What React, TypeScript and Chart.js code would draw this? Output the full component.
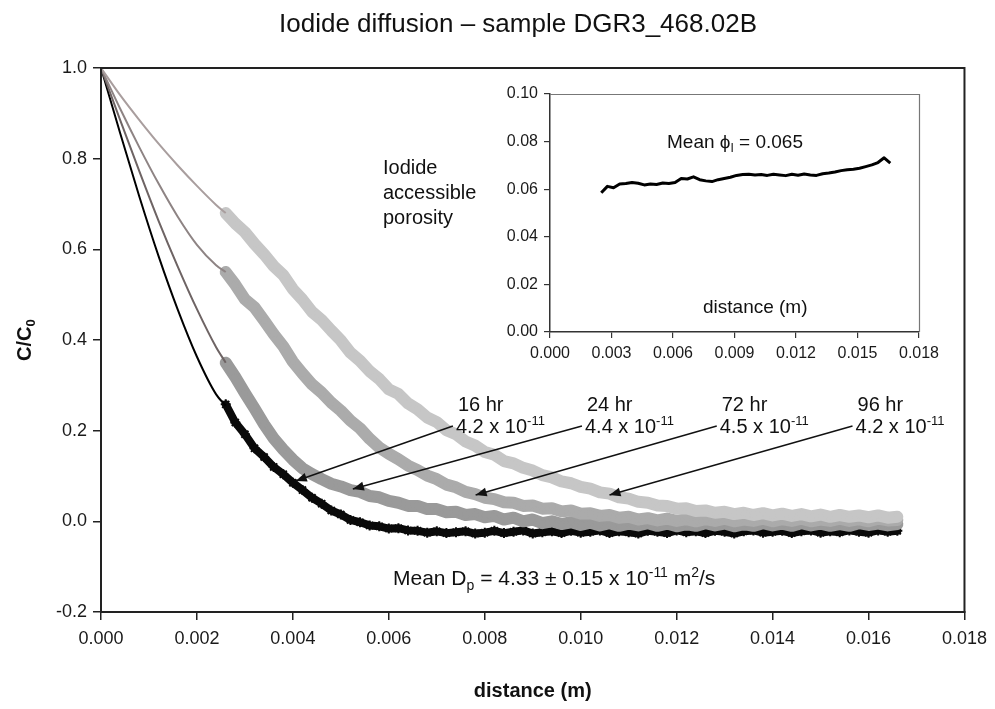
import React, { useEffect, useRef } from "react";
import { Chart, registerables } from "chart.js";

Chart.register(...registerables);

const FONT = '"Liberation Sans", Arial, Helvetica, sans-serif';
const TITLE = "Iodide diffusion \u2013 sample DGR3_468.02B";

// ---- main chart ticks ----
const X_TICKS = [0, 0.002, 0.004, 0.006, 0.008, 0.01, 0.012, 0.014, 0.016, 0.018];
const Y_TICKS = [-0.2, 0, 0.2, 0.4, 0.6, 0.8, 1.0];

// ---- fitted model curves (C/C0 vs distance) ----
const MODEL_X = [0, 0.0004, 0.0008, 0.0012, 0.0016, 0.002, 0.0024, 0.0026];
const MODEL_16 = [1, 0.856, 0.716, 0.585, 0.467, 0.363, 0.28, 0.255];
const MODEL_24 = [1, 0.885, 0.772, 0.663, 0.562, 0.468, 0.384, 0.35];
const MODEL_72 = [1, 0.91, 0.825, 0.745, 0.672, 0.61, 0.565, 0.55];
const MODEL_96 = [1, 0.94, 0.885, 0.833, 0.785, 0.74, 0.698, 0.68];

// ---- measured profiles ----
const DIST = [
  0.0026, 0.0028, 0.0030, 0.0032, 0.0034, 0.0036, 0.0038, 0.0040, 0.0042, 0.0044,
  0.0046, 0.0048, 0.0050, 0.0052, 0.0054, 0.0056, 0.0058, 0.0060, 0.0062, 0.0064,
  0.0066, 0.0068, 0.0070, 0.0072, 0.0074, 0.0076, 0.0078, 0.0080, 0.0082, 0.0084,
  0.0086, 0.0088, 0.0090, 0.0092, 0.0094, 0.0096, 0.0098, 0.0100, 0.0102, 0.0104,
  0.0106, 0.0108, 0.0110, 0.0112, 0.0114, 0.0116, 0.0118, 0.0120, 0.0122, 0.0124,
  0.0126, 0.0128, 0.0130, 0.0132, 0.0134, 0.0136, 0.0138, 0.0140, 0.0142, 0.0144,
  0.0146, 0.0148, 0.0150, 0.0152, 0.0154, 0.0156, 0.0158, 0.0160, 0.0162, 0.0164,
  0.0166,
];
const DATA_16 = [
  0.258, 0.218, 0.192, 0.161, 0.142, 0.12, 0.104, 0.085, 0.069, 0.052,
  0.039, 0.024, 0.015, 0.003, -0.002, -0.009, -0.011, -0.016, -0.015, -0.02,
  -0.021, -0.025, -0.022, -0.026, -0.024, -0.022, -0.027, -0.025, -0.021, -0.026,
  -0.023, -0.020, -0.027, -0.024, -0.022, -0.026, -0.021, -0.025, -0.023, -0.020,
  -0.026, -0.022, -0.024, -0.027, -0.021, -0.023, -0.026, -0.020, -0.024, -0.022,
  -0.026, -0.021, -0.023, -0.027, -0.022, -0.020, -0.025, -0.023, -0.021, -0.026,
  -0.022, -0.020, -0.025, -0.022, -0.024, -0.020, -0.023, -0.025, -0.020, -0.023,
  -0.021,
];
const DATA_24 = [
  0.35, 0.318, 0.283, 0.249, 0.214, 0.183, 0.158, 0.136, 0.117, 0.104,
  0.093, 0.083, 0.077, 0.069, 0.065, 0.056, 0.053, 0.045, 0.041, 0.034,
  0.034, 0.027, 0.027, 0.020, 0.021, 0.014, 0.016, 0.009, 0.012, 0.004,
  0.008, 0.000, 0.004, -0.004, 0.000, -0.006, -0.002, -0.008, -0.003, -0.009,
  -0.004, -0.010, -0.005, -0.009, -0.004, -0.010, -0.005, -0.011, -0.006, -0.010,
  -0.004, -0.009, -0.005, -0.011, -0.006, -0.010, -0.004, -0.009, -0.005, -0.010,
  -0.004, -0.009, -0.005, -0.010, -0.006, -0.010, -0.004, -0.008, -0.005, -0.009,
  -0.006,
];
const DATA_72 = [
  0.55, 0.522, 0.49, 0.472, 0.443, 0.413, 0.386, 0.352, 0.326, 0.302,
  0.284, 0.262, 0.244, 0.222, 0.205, 0.182, 0.163, 0.149, 0.137, 0.123,
  0.113, 0.101, 0.093, 0.081, 0.075, 0.065, 0.060, 0.052, 0.049, 0.042,
  0.041, 0.034, 0.035, 0.028, 0.029, 0.022, 0.024, 0.017, 0.018, 0.012,
  0.014, 0.008, 0.010, 0.004, 0.007, 0.002, 0.006, 0.001, 0.005, 0.000,
  0.005, 0.001, 0.006, 0.000, 0.004, 0.001, 0.006, 0.000, 0.005, 0.001,
  0.006, 0.000, 0.004, 0.001, 0.006, 0.001, 0.005, 0.000, 0.006, 0.002,
  0.003,
];
const DATA_96 = [
  0.68, 0.657, 0.638, 0.612, 0.589, 0.563, 0.543, 0.512, 0.489, 0.462,
  0.444, 0.421, 0.399, 0.372, 0.354, 0.331, 0.314, 0.291, 0.281, 0.260,
  0.247, 0.229, 0.219, 0.201, 0.192, 0.176, 0.167, 0.153, 0.147, 0.133,
  0.128, 0.118, 0.112, 0.102, 0.097, 0.088, 0.084, 0.076, 0.072, 0.064,
  0.061, 0.053, 0.050, 0.043, 0.041, 0.035, 0.034, 0.028, 0.029, 0.023,
  0.024, 0.019, 0.021, 0.016, 0.019, 0.014, 0.018, 0.013, 0.017, 0.012,
  0.016, 0.011, 0.015, 0.010, 0.014, 0.010, 0.013, 0.009, 0.013, 0.008,
  0.010,
];

// ---- annotation text / arrows (data units) ----
const TIME_LABELS = ["16 hr", "24 hr", "72 hr", "96 hr"];
const DP_LABELS = ["4.2", "4.4", "4.5", "4.2"];
const LABEL_X = [0.00744, 0.01013, 0.01294, 0.01577];
const ARROW_TIP_X = [0.00406, 0.00525, 0.00781, 0.0106];
const ARROW_TIP_Y = [0.089, 0.0713, 0.058, 0.058];

// ---- inset: iodide accessible porosity ----
const INSET_X_TICKS = [0, 0.003, 0.006, 0.009, 0.012, 0.015, 0.018];
const INSET_Y_TICKS = [0, 0.02, 0.04, 0.06, 0.08, 0.1];
const INSET_X = [
  0.0025, 0.0028, 0.0031, 0.0034, 0.0037, 0.0040, 0.0043, 0.0046, 0.0049, 0.0052,
  0.0055, 0.0058, 0.0061, 0.0064, 0.0067, 0.0070, 0.0073, 0.0076, 0.0079, 0.0082,
  0.0085, 0.0088, 0.0091, 0.0094, 0.0097, 0.0100, 0.0103, 0.0106, 0.0109, 0.0112,
  0.0115, 0.0118, 0.0121, 0.0124, 0.0127, 0.0130, 0.0133, 0.0136, 0.0139, 0.0142,
  0.0145, 0.0148, 0.0151, 0.0154, 0.0157, 0.0160, 0.0163, 0.0166,
];
const PHI = [
  0.0585, 0.0612, 0.0606, 0.0622, 0.0624, 0.0628, 0.0625, 0.0618, 0.0622, 0.0620,
  0.0626, 0.0624, 0.0628, 0.0645, 0.0643, 0.0652, 0.0640, 0.0635, 0.0632, 0.0640,
  0.0645, 0.0650, 0.0658, 0.0662, 0.0663, 0.0660, 0.0662, 0.0658, 0.0663, 0.0660,
  0.0657, 0.0663, 0.0659, 0.0664, 0.0660, 0.0658, 0.0665, 0.0668, 0.0672, 0.0678,
  0.0682, 0.0684, 0.0688, 0.0695, 0.0702, 0.0712, 0.0732, 0.0710,
];

const pts = (xs: number[], ys: number[]) => xs.map((x, i) => ({ x, y: ys[i] }));

type Seg = { t: string; size: number; dy?: number; bold?: boolean };
function drawRich(ctx: CanvasRenderingContext2D, segs: Seg[], x: number, y: number) {
  let cx = x;
  ctx.textAlign = "left";
  ctx.textBaseline = "alphabetic";
  for (const s of segs) {
    ctx.font = `${s.bold ? "bold " : ""}${s.size}px ${FONT}`;
    ctx.fillText(s.t, cx, y + (s.dy || 0));
    cx += ctx.measureText(s.t).width;
  }
  return cx - x;
}

function arrow(ctx: CanvasRenderingContext2D, x1: number, y1: number, x2: number, y2: number) {
  ctx.beginPath();
  ctx.moveTo(x1, y1);
  ctx.lineTo(x2, y2);
  ctx.stroke();
  const ang = Math.atan2(y2 - y1, x2 - x1);
  const L = 11;
  const W = 4.5;
  const bx = x2 - L * Math.cos(ang);
  const by = y2 - L * Math.sin(ang);
  ctx.beginPath();
  ctx.moveTo(x2, y2);
  ctx.lineTo(bx + W * Math.sin(ang), by - W * Math.cos(ang));
  ctx.lineTo(bx - W * Math.sin(ang), by + W * Math.cos(ang));
  ctx.closePath();
  ctx.fill();
}

const mainDecor = {
  id: "mainDecor",
  afterDraw(chart: any) {
    const { ctx, chartArea: a, scales } = chart;
    const xs = scales.x;
    const ys = scales.y;
    ctx.save();
    ctx.strokeStyle = "#222";
    ctx.lineWidth = 2;
    ctx.strokeRect(a.left, a.top, a.right - a.left, a.bottom - a.top);

    ctx.fillStyle = "#111";
    ctx.font = `26px ${FONT}`;
    ctx.textAlign = "center";
    ctx.textBaseline = "alphabetic";
    ctx.fillText(TITLE, 518, 32);

    ctx.save();
    ctx.translate(31, 361);
    ctx.rotate(-Math.PI / 2);
    drawRich(ctx, [
      { t: "C/C", size: 20, bold: true },
      { t: "0", size: 13, bold: true, dy: 4 },
    ], 0, 0);
    ctx.restore();

    ctx.font = `bold 20px ${FONT}`;
    ctx.textAlign = "center";
    ctx.fillText("distance (m)", (a.left + a.right) / 2, 697);

    const yTop = ys.getPixelForValue(0.2434);
    const yBot = ys.getPixelForValue(0.1949);
    const yArr = ys.getPixelForValue(0.2103);
    ctx.lineWidth = 1.4;
    ctx.strokeStyle = "#111";
    for (let i = 0; i < TIME_LABELS.length; i++) {
      const lx = xs.getPixelForValue(LABEL_X[i]);
      drawRich(ctx, [{ t: TIME_LABELS[i], size: 20 }], lx, yTop);
      drawRich(ctx, [
        { t: `${DP_LABELS[i]} x 10`, size: 20 },
        { t: "-11", size: 13, dy: -8 },
      ], lx - 2, yBot);
      arrow(ctx, lx - 5, yArr, xs.getPixelForValue(ARROW_TIP_X[i]), ys.getPixelForValue(ARROW_TIP_Y[i]));
    }

    drawRich(ctx, [
      { t: "Mean D", size: 21 },
      { t: "p", size: 14, dy: 5 },
      { t: " = 4.33 \u00b1 0.15 x 10", size: 21 },
      { t: "-11", size: 14, dy: -8 },
      { t: " m", size: 21 },
      { t: "2", size: 14, dy: -8 },
      { t: "/s", size: 21 },
    ], a.left + 292, a.top + 517);

    ["Iodide", "accessible", "porosity"].forEach((t, i) => {
      drawRich(ctx, [{ t, size: 20 }], a.left + 282, a.top + 106 + i * 25);
    });
    ctx.restore();
  },
};

const insetDecor = {
  id: "insetDecor",
  afterDraw(chart: any) {
    const { ctx, chartArea: a } = chart;
    ctx.save();
    ctx.strokeStyle = "#777";
    ctx.lineWidth = 1.2;
    ctx.beginPath();
    ctx.moveTo(a.left, a.top + 0.5);
    ctx.lineTo(a.right + 0.5, a.top + 0.5);
    ctx.lineTo(a.right + 0.5, a.bottom);
    ctx.stroke();
    ctx.fillStyle = "#111";
    drawRich(ctx, [
      { t: "Mean \u03d5", size: 19 },
      { t: "I", size: 12, dy: 4 },
      { t: " = 0.065", size: 19 },
    ], a.left + 117, a.top + 54);
    drawRich(ctx, [{ t: "distance (m)", size: 19 }], a.left + 153, a.top + 219);
    ctx.restore();
  },
};

function band(xs: number[], ys: number[], color: string, width: number, order: number) {
  return {
    data: pts(xs, ys),
    showLine: true,
    borderColor: color,
    backgroundColor: color,
    borderWidth: width,
    borderJoinStyle: "round",
    borderCapStyle: "round",
    pointRadius: 4,
    pointStyle: "crossRot",
    pointBorderWidth: 3,
    pointBorderColor: color,
    order,
  };
}

function model(ys: number[], color: string) {
  return {
    data: pts(MODEL_X, ys),
    showLine: true,
    borderColor: color,
    borderWidth: 2,
    pointRadius: 0,
    cubicInterpolationMode: "monotone",
    order: 0,
  };
}

export default function App() {
  const mainRef = useRef<HTMLCanvasElement | null>(null);
  const insetRef = useRef<HTMLCanvasElement | null>(null);

  useEffect(() => {
    const tickFont = { family: FONT, size: 18 };
    const main = new Chart(mainRef.current as HTMLCanvasElement, {
      type: "scatter",
      data: {
        datasets: [
          model(MODEL_96, "#a99e9e"),
          model(MODEL_72, "#8e8484"),
          model(MODEL_24, "#6e6464"),
          model(MODEL_16, "#000000"),
          band(DIST, DATA_96, "#c6c6c6", 12, 1),
          band(DIST, DATA_72, "#ababab", 12, 2),
          band(DIST, DATA_24, "#9a9a9a", 12, 3),
          {
            ...band(DIST, DATA_16, "#0a0a0a", 8, 4),
            pointRadius: 5,
            pointStyle: "star",
            pointBorderWidth: 2,
            pointBorderColor: "#0a0a0a",
            pointBackgroundColor: "#0a0a0a",
          },
        ] as any,
      },
      options: {
        responsive: false,
        animation: false,
        devicePixelRatio: 1,
        layout: { padding: { left: 0, top: 68, right: 30, bottom: 0 } },
        plugins: { legend: { display: false }, tooltip: { enabled: false }, title: { display: false } },
        scales: {
          x: {
            type: "linear",
            min: 0,
            max: 0.018,
            afterBuildTicks: (s: any) => { s.ticks = X_TICKS.map((v) => ({ value: v })); },
            afterFit: (s: any) => { s.height = 97; },
            ticks: {
              callback: (v: any) => Number(v).toFixed(3),
              font: tickFont,
              color: "#1a1a1a",
              padding: 8,
              maxRotation: 0,
              autoSkip: false,
            },
            grid: { display: true, drawOnChartArea: false, drawTicks: true, tickLength: 8, color: "#222", lineWidth: 1.5 },
            border: { display: true, color: "#222", width: 2 },
          },
          y: {
            type: "linear",
            min: -0.2,
            max: 1.0,
            afterBuildTicks: (s: any) => { s.ticks = Y_TICKS.map((v) => ({ value: v })); },
            afterFit: (s: any) => { s.width = 101; },
            ticks: {
              callback: (v: any) => Number(v).toFixed(1),
              font: tickFont,
              color: "#1a1a1a",
              padding: 6,
              autoSkip: false,
            },
            grid: { display: true, drawOnChartArea: false, drawTicks: true, tickLength: 8, color: "#222", lineWidth: 1.5 },
            border: { display: true, color: "#222", width: 2 },
          },
        },
      } as any,
      plugins: [mainDecor],
    });

    const insetFont = { family: FONT, size: 16 };
    const inset = new Chart(insetRef.current as HTMLCanvasElement, {
      type: "scatter",
      data: {
        datasets: [
          {
            data: pts(INSET_X, PHI),
            showLine: true,
            borderColor: "#000",
            borderWidth: 3,
            pointRadius: 0,
            borderJoinStyle: "round",
          },
        ] as any,
      },
      options: {
        responsive: false,
        animation: false,
        devicePixelRatio: 1,
        layout: { padding: { left: 0, top: 24, right: 41, bottom: 0 } },
        plugins: { legend: { display: false }, tooltip: { enabled: false } },
        scales: {
          x: {
            type: "linear",
            min: 0,
            max: 0.018,
            afterBuildTicks: (s: any) => { s.ticks = INSET_X_TICKS.map((v) => ({ value: v })); },
            afterFit: (s: any) => { s.height = 38; },
            ticks: {
              callback: (v: any) => Number(v).toFixed(3),
              font: insetFont,
              color: "#1a1a1a",
              padding: 6,
              maxRotation: 0,
              autoSkip: false,
            },
            grid: { display: true, drawOnChartArea: false, drawTicks: true, tickLength: 6, color: "#333", lineWidth: 1.2 },
            border: { display: true, color: "#333", width: 1.5 },
          },
          y: {
            type: "linear",
            min: 0,
            max: 0.1,
            afterBuildTicks: (s: any) => { s.ticks = INSET_Y_TICKS.map((v) => ({ value: v })); },
            afterFit: (s: any) => { s.width = 80; },
            ticks: {
              callback: (v: any) => Number(v).toFixed(2),
              font: insetFont,
              color: "#1a1a1a",
              padding: 6,
              autoSkip: false,
            },
            grid: { display: true, drawOnChartArea: false, drawTicks: true, tickLength: 6, color: "#333", lineWidth: 1.2 },
            border: { display: true, color: "#333", width: 1.5 },
          },
        },
      } as any,
      plugins: [insetDecor],
    });

    return () => {
      main.destroy();
      inset.destroy();
    };
  }, []);

  return (
    <div style={{ position: "absolute", left: 0, top: 0, width: 995, height: 709, background: "#fff" }}>
      <canvas ref={mainRef} width={995} height={709} style={{ position: "absolute", left: 0, top: 0, display: "block" }} />
      <canvas ref={insetRef} width={490} height={300} style={{ position: "absolute", left: 470, top: 70, display: "block" }} />
    </div>
  );
}
